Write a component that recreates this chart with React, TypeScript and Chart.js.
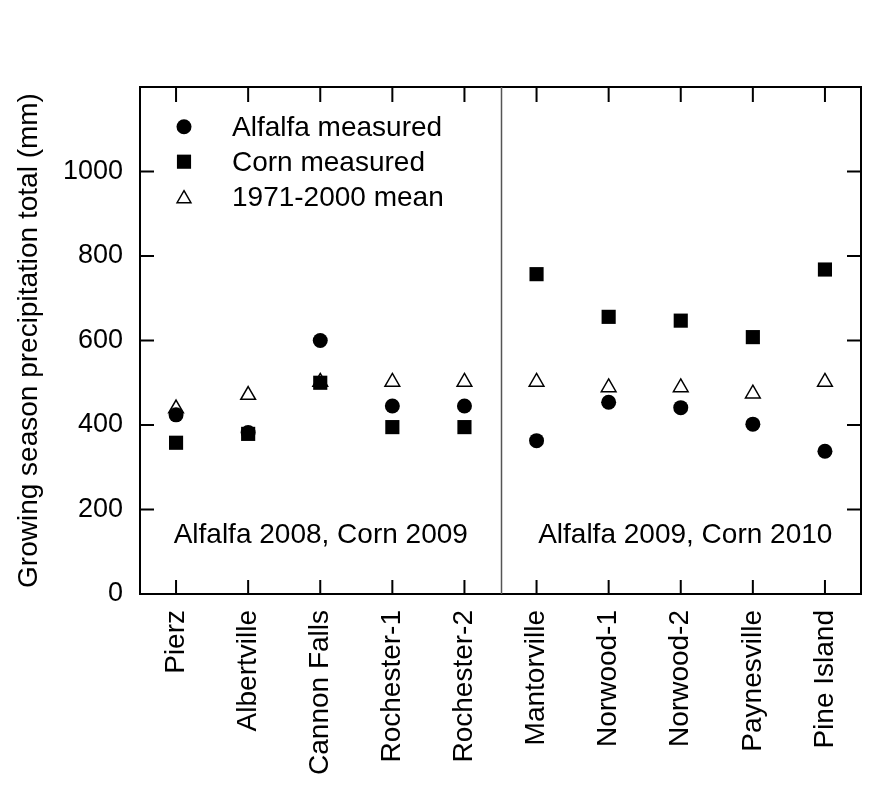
import React, { useEffect, useRef } from 'react';
import { Chart, registerables } from 'chart.js';
import { drawPoint } from 'chart.js/helpers';

Chart.register(...registerables);

// ---- data ----
const sites = ['Pierz', 'Albertville', 'Cannon Falls', 'Rochester-1', 'Rochester-2', 'Mantorville', 'Norwood-1', 'Norwood-2', 'Paynesville', 'Pine Island'];
const alfalfaMeasured = [424, 382, 600, 445, 445, 363, 454, 441, 402, 338];
const cornMeasured = [358, 379, 500, 395, 395, 757, 656, 647, 608, 768];
const mean1971to2000 = [439, 471, 502, 502, 502, 502, 489, 489, 474, 502];
const yTickValues = [0, 200, 400, 600, 800, 1000];
const yMax = 1200;
const seriesNames = ['Alfalfa measured', 'Corn measured', '1971-2000 mean'];
const periodLabels = ['Alfalfa 2008, Corn 2009', 'Alfalfa 2009, Corn 2010'];
const periodSplitAfter = 4; // index of last site in first period
const yAxisTitle = 'Growing season precipitation total (mm)';

const FONT = "'Liberation Sans', Arial, Helvetica, sans-serif";

const pointStyles = [
  { pointStyle: 'circle', radius: 7.5, fill: '#000', border: '#000', borderWidth: 0 },
  { pointStyle: 'rect', radius: 10, fill: '#000', border: '#000', borderWidth: 0 },
  { pointStyle: 'triangle', radius: 8.5, fill: '#fff', border: '#000', borderWidth: 1.5 },
];

const decorPlugin = {
  id: 'decor',
  afterDraw(chart: any) {
    const ctx: CanvasRenderingContext2D = chart.ctx;
    const { left, right, top, bottom } = chart.chartArea;
    const xs = chart.scales.x;
    const ys = chart.scales.y;
    ctx.save();
    ctx.strokeStyle = '#000';
    ctx.lineWidth = 2;
    // inward ticks on all four sides
    ctx.beginPath();
    xs.ticks.forEach((_t: any, i: number) => {
      const px = xs.getPixelForTick(i);
      ctx.moveTo(px, bottom);
      ctx.lineTo(px, bottom - 14);
      ctx.moveTo(px, top);
      ctx.lineTo(px, top + 15);
    });
    ys.ticks.forEach((_t: any, i: number) => {
      const py = ys.getPixelForTick(i);
      ctx.moveTo(left, py);
      ctx.lineTo(left + 14, py);
      ctx.moveTo(right, py);
      ctx.lineTo(right - 14, py);
    });
    ctx.stroke();
    // frame
    ctx.strokeRect(left, top, right - left, bottom - top);

    // period separator
    const sepX = (xs.getPixelForValue(periodSplitAfter) + xs.getPixelForValue(periodSplitAfter + 1)) / 2 + 1;
    ctx.strokeStyle = '#555';
    ctx.lineWidth = 1.5;
    ctx.beginPath();
    ctx.moveTo(sepX, top);
    ctx.lineTo(sepX, bottom);
    ctx.stroke();

    // period labels
    ctx.fillStyle = '#000';
    ctx.font = `28px ${FONT}`;
    ctx.textAlign = 'center';
    ctx.textBaseline = 'alphabetic';
    const ty = ys.getPixelForValue(121);
    ctx.fillText(periodLabels[0], (left + sepX) / 2, ty);
    ctx.fillText(periodLabels[1], (sepX + right) / 2 + 4, ty);

    // legend
    const mx = left + 44;
    const tx = left + 92;
    const markerY = [top + 39.7, top + 74.7, top + 111.7];
    const textY = [top + 48.7, top + 83.7, top + 118.7];
    seriesNames.forEach((name, i) => {
      const st = pointStyles[i];
      ctx.fillStyle = st.fill;
      ctx.strokeStyle = st.border;
      ctx.lineWidth = st.borderWidth;
      drawPoint(ctx, {
        pointStyle: st.pointStyle as any,
        radius: i === 2 ? 8 : st.radius,
        rotation: 0,
        borderWidth: st.borderWidth,
      } as any, mx, markerY[i]);
      ctx.fillStyle = '#000';
      ctx.textAlign = 'left';
      ctx.textBaseline = 'alphabetic';
      ctx.font = `28px ${FONT}`;
      ctx.fillText(name, tx, textY[i]);
    });
    ctx.restore();
  },
};

export default function App() {
  const canvasRef = useRef<HTMLCanvasElement | null>(null);

  useEffect(() => {
    const canvas = canvasRef.current;
    if (!canvas) return;
    const seriesData = [alfalfaMeasured, cornMeasured, mean1971to2000];
    const chart = new Chart(canvas, {
      type: 'line',
      data: {
        labels: sites,
        datasets: seriesData.map((d, i) => ({
          label: seriesNames[i],
          data: d,
          showLine: false,
          pointStyle: pointStyles[i].pointStyle as any,
          pointRadius: pointStyles[i].radius,
          pointHoverRadius: pointStyles[i].radius,
          pointBackgroundColor: pointStyles[i].fill,
          pointBorderColor: pointStyles[i].border,
          pointBorderWidth: pointStyles[i].borderWidth,
          backgroundColor: pointStyles[i].fill,
          borderColor: pointStyles[i].border,
        })),
      },
      options: {
        responsive: false,
        animation: false,
        events: [],
        layout: { padding: { top: 87, right: 28, left: 0, bottom: 0 } },
        plugins: {
          legend: { display: false },
          tooltip: { enabled: false },
        },
        scales: {
          x: {
            type: 'category',
            offset: true,
            grid: { display: false, drawTicks: false },
            border: { display: false },
            ticks: {
              autoSkip: false,
              minRotation: 90,
              maxRotation: 90,
              padding: 16,
              color: '#000',
              font: { family: FONT, size: 28 },
            },
            afterFit: (s: any) => {
              s.height = 198;
            },
          },
          y: {
            type: 'linear',
            min: 0,
            max: yMax,
            grid: { display: false, drawTicks: false },
            border: { display: false },
            afterBuildTicks: (s: any) => {
              s.ticks = yTickValues.map((v) => ({ value: v }));
            },
            ticks: {
              padding: 17,
              color: '#000',
              font: { family: FONT, size: 27 },
              callback: (v: any) => String(v),
            },
            title: {
              display: true,
              text: yAxisTitle,
              color: '#000',
              font: { family: FONT, size: 28 },
              padding: { top: 12, bottom: 0 },
            },
            afterFit: (s: any) => {
              s.width = 140;
            },
          },
        },
      },
      plugins: [decorPlugin],
    });
    return () => chart.destroy();
  }, []);

  return (
    <div style={{ position: 'absolute', left: 0, top: 0, width: 889, height: 792, background: '#fff' }}>
      <canvas ref={canvasRef} width={889} height={792} style={{ display: 'block', width: 889, height: 792 }} />
    </div>
  );
}
